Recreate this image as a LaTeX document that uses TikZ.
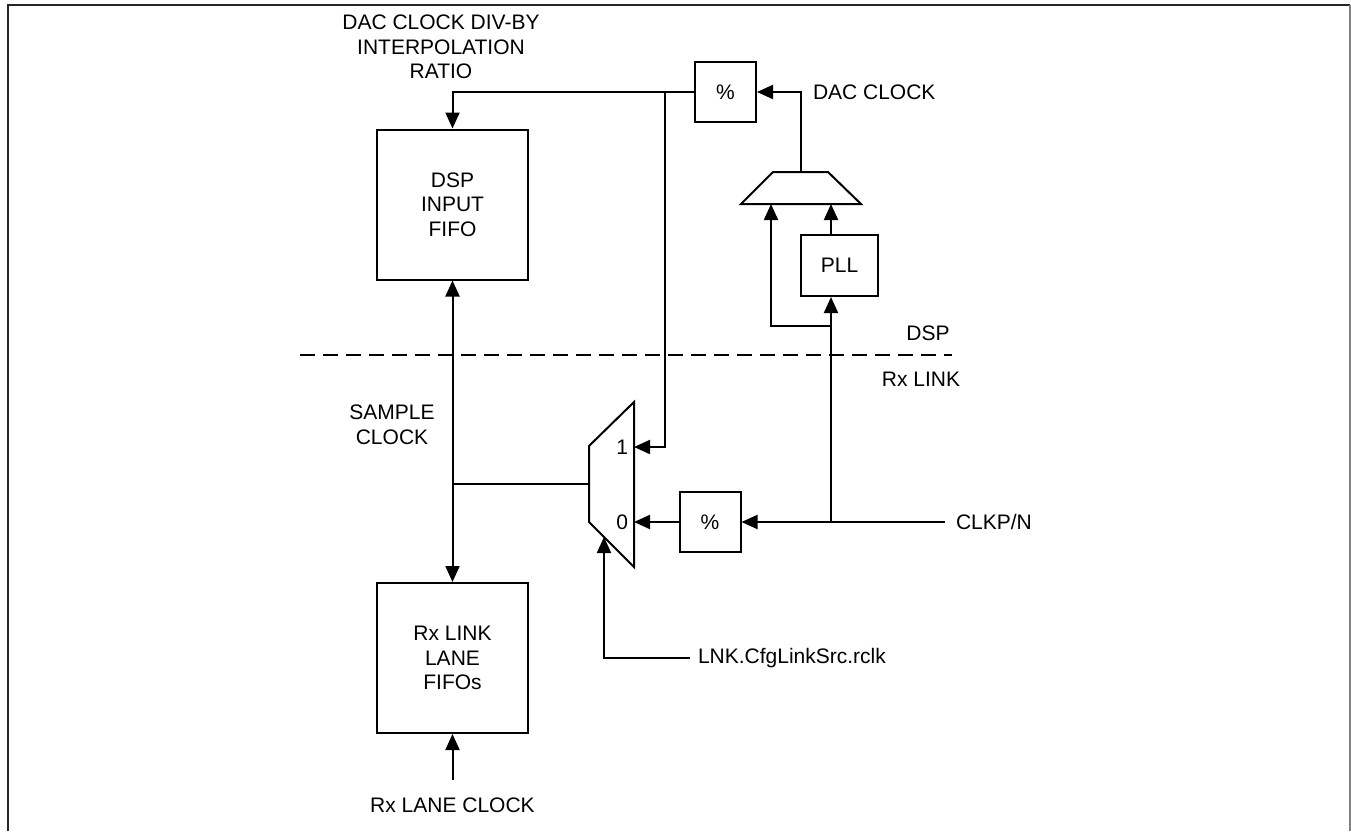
\documentclass[tikz,border=0pt]{standalone}
\usepackage{fontspec}
\setmainfont{Liberation Sans}
\usetikzlibrary{arrows.meta}
\begin{document}
\begin{tikzpicture}[x=0.5pt,y=-0.5pt,
  line width=1pt,
  every node/.style={font=\fontsize{10.5}{12.25}\selectfont, inner sep=0pt},
  bigbox/.style={draw, align=center, minimum width=75.5pt, minimum height=75pt},
  pctbox/.style={draw, minimum width=30.5pt, minimum height=30pt},
  arr/.style={-{Triangle[length=8pt,width=7pt]}},
  darr/.style={{Triangle[length=8pt,width=7pt]}-{Triangle[length=8pt,width=7pt]}},
  lbl/.style={align=center}]
\useasboundingbox (0,0) rectangle (1351,831);
% frame
\draw[line width=1pt, black!85] (8,831) -- (8,5) -- (1350,5);
\draw[line width=1pt, gray] (1350,5) -- (1350,831);

% blocks
\node[bigbox] (dsp) at (452.5,204.5) {DSP\\INPUT\\FIFO};
\node[bigbox] (rx) at (452.5,658) {Rx LINK\\LANE\\FIFOs};
\node[pctbox] (pu) at (725.5,92) {\%};
\node[pctbox] (pl) at (710,522) {\%};
\node[draw, minimum width=38.5pt, minimum height=30.5pt] (pll) at (839.5,265.5) {PLL};

% lower mux
\coordinate (ma) at (589,446);
\coordinate (mb) at (634,402);
\coordinate (mc) at (634,567);
\coordinate (md) at (589,522);
\draw (ma) -- (mb) -- (mc) -- (md) -- cycle;
\coordinate (mout) at (589,484);
\coordinate (in1) at (634,447);
\coordinate (in0) at (634,522);
\coordinate (sel) at (604,537);
\node[anchor=east] (one) at (629,447) {1};
\node[anchor=east] (zero) at (629,522) {0};

% upper mux
\coordinate (ua) at (773,172);
\coordinate (ub) at (828,172);
\coordinate (uc) at (861,204);
\coordinate (ud) at (741,204);
\draw (ua) -- (ub) -- (uc) -- (ud) -- cycle;
\coordinate (uout) at (801,172);
\coordinate (uin1) at (771,204);
\coordinate (uin2) at (831,204);

% junctions / free ends
\coordinate (jsc) at (452.5,484);
\coordinate (jtop) at (665,92);
\coordinate (jclk) at (831,522);
\coordinate (jpll) at (831,326);
\coordinate (clkend) at (945,522);
\coordinate (lanec) at (452.5,780);

% labels
\node[lbl] (title) at (441,47) {DAC CLOCK DIV-BY\\INTERPOLATION\\RATIO};
\node[anchor=west] (dacclk) at (812,92) {DAC CLOCK};
\node[lbl] (sample) at (392,425) {SAMPLE\\CLOCK};
\node (dsplbl) at (928,333) {DSP};
\node (rxlbl) at (921,379) {Rx LINK};
\node[anchor=west] (clk) at (955,522) {CLKP/N};
\node[anchor=west, inner xsep=3.5pt] (lnk) at (690,658) {LNK.CfgLinkSrc.rclk};
\node (lane) at (452.5,805) {Rx LANE CLOCK};

% domain divider
\draw[dash pattern=on 7.5pt off 4pt] (300,355) -- (952,355);

% connections
\draw[darr] (dsp.south) -- (rx.north);
\draw (jsc) -- (mout);
\draw[arr] (pu.west) -| (dsp.north);
\draw[arr] (jtop) |- (in1);
\draw[arr] (uout) |- (pu.east);
\draw[arr] (pll.north -| uin2) -- (uin2);
\draw[arr] (jclk) -- (pll.south -| jclk);
\draw[arr] (jpll) -| (uin1);
\draw[arr] (clkend) -- (pl.east);
\draw[arr] (pl.west) -- (in0);
\draw[arr] (lnk.west) -| (sel);
\draw[arr] (lanec) -- (rx.south);
\end{tikzpicture}
\end{document}
